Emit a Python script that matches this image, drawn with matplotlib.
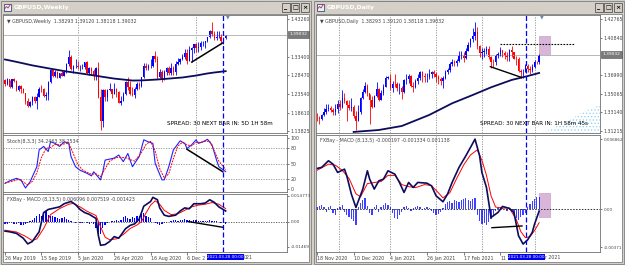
import matplotlib
matplotlib.use('Agg')
import matplotlib.pyplot as plt
import matplotlib.patches as patches
import numpy as np
from matplotlib.colors import LinearSegmentedColormap

W, H = 625, 265
plt.rcParams['font.family'] = ['DejaVu Sans']
plt.rcParams['hatch.linewidth'] = 0.5

# ---------------- weekly GBPUSD (26 May 2019 .. 4 Apr 2021) ----------------
w_open0 = 1.2715
w_close = [1.2623, 1.2740, 1.2546, 1.2737, 1.2693, 1.2465, 1.2573, 1.2478, 1.2375, 1.2163,
           1.2028, 1.2144, 1.2278, 1.2160, 1.2288, 1.2499, 1.2474, 1.2290, 1.2330, 1.2668,
           1.2981, 1.2826, 1.2944, 1.2775, 1.2900, 1.2840, 1.2930, 1.3150, 1.3330, 1.3015,
           1.3080, 1.3080,
           1.3060, 1.3070, 1.3075, 1.3200, 1.2897, 1.3043, 1.2965, 1.2820, 1.3047, 1.2280,
           1.1635, 1.2460, 1.2280, 1.2455, 1.2480, 1.2365, 1.2490, 1.2405, 1.2130, 1.2165,
           1.2345, 1.2665, 1.2550, 1.2345, 1.2335, 1.2475, 1.2615, 1.2563, 1.2790, 1.3090,
           1.3050, 1.3085, 1.3090, 1.3350, 1.3275, 1.2790, 1.2920, 1.2745, 1.2945, 1.3045,
           1.2915, 1.3045, 1.2945, 1.3150, 1.3190, 1.3285, 1.3315, 1.3440, 1.3230, 1.3515,
           1.3555, 1.3670,
           1.3565, 1.3590, 1.3690, 1.3705, 1.3735, 1.3845, 1.4010, 1.3925, 1.3830, 1.3860,
           1.3865, 1.3760, 1.38293, 1.39032]
w_high = [1.2750, 1.2763, 1.2730, 1.2750, 1.2784, 1.2720, 1.2580, 1.2580, 1.2521, 1.2380,
          1.2250, 1.2170, 1.2310, 1.2310, 1.2385, 1.2528, 1.2582, 1.2513, 1.2412, 1.2706,
          1.3012, 1.3010, 1.2977, 1.2950, 1.2912, 1.2985, 1.2980, 1.3180, 1.3515, 1.3370,
          1.3120, 1.3285,
          1.3213, 1.3118, 1.3150, 1.3208, 1.3210, 1.3070, 1.3070, 1.3000, 1.3060, 1.3200,
          1.2480, 1.2486, 1.2485, 1.2485, 1.2650, 1.2485, 1.2645, 1.2500, 1.2430, 1.2300,
          1.2400, 1.2690, 1.2813, 1.2690, 1.2535, 1.2533, 1.2670, 1.2665, 1.2800, 1.3170,
          1.3170, 1.3140, 1.3265, 1.3355, 1.3482, 1.3350, 1.3010, 1.2980, 1.2980, 1.3065,
          1.3080, 1.3175, 1.3100, 1.3210, 1.3312, 1.3310, 1.3400, 1.3540, 1.3540, 1.3625,
          1.3600, 1.3670,
          1.3705, 1.3710, 1.3745, 1.3760, 1.3750, 1.3865, 1.4035, 1.4241, 1.4015, 1.4000,
          1.4000, 1.3920, 1.3850, 1.39120]
w_low = [1.2560, 1.2604, 1.2505, 1.2506, 1.2658, 1.2440, 1.2439, 1.2382, 1.2370, 1.2080,
         1.2015, 1.2016, 1.2070, 1.2130, 1.1958, 1.2280, 1.2410, 1.2270, 1.2205, 1.2195,
         1.2640, 1.2805, 1.2800, 1.2767, 1.2770, 1.2823, 1.2820, 1.2900, 1.3100, 1.2980,
         1.2905, 1.3050,
         1.3010, 1.2955, 1.3000, 1.3000, 1.2880, 1.2850, 1.2850, 1.2725, 1.2730, 1.2250,
         1.1409, 1.1500, 1.2165, 1.2160, 1.2430, 1.2250, 1.2360, 1.2265, 1.2110, 1.2075,
         1.2160, 1.2330, 1.2460, 1.2330, 1.2310, 1.2250, 1.2450, 1.2480, 1.2540, 1.2780,
         1.2985, 1.2980, 1.3050, 1.3060, 1.3200, 1.2760, 1.2765, 1.2675, 1.2720, 1.2850,
         1.2860, 1.2865, 1.2855, 1.2855, 1.3105, 1.3150, 1.3240, 1.3280, 1.3135, 1.3230,
         1.3190, 1.3430,
         1.3450, 1.3450, 1.3520, 1.3620, 1.3565, 1.3715, 1.3825, 1.3890, 1.3775, 1.3780,
         1.3815, 1.3670, 1.3670, 1.38118]
w_ma_x = [0, 5, 12, 20, 27, 35, 42, 48, 56, 60, 67, 72, 78, 84, 89, 92, 97]
w_ma_y = [1.3262, 1.3200, 1.3107, 1.3020, 1.2948, 1.2880, 1.2815, 1.2760, 1.2709, 1.2712,
          1.2736, 1.2760, 1.2789, 1.2840, 1.2895, 1.2920, 1.2955]

w_stoch_x = [0, 2, 5, 7, 9, 11, 14, 15, 17, 19, 20, 22, 24, 26, 28, 29, 31, 33, 36, 38, 39,
             42, 43, 44, 48, 50, 52, 54, 56, 59, 61, 63, 65, 66, 69, 70, 72, 74, 77, 79, 80,
             82, 84, 85, 87, 89, 91, 93, 94, 97]
w_stoch_main = [11, 16, 21, 18, 2, 14, 44, 77, 84, 74, 93, 90, 84, 93, 91, 64, 44, 37, 31, 26, 34,
                18, 34, 57, 61, 67, 54, 70, 44, 64, 97, 93, 90, 51, 18, 18, 44, 77, 95, 90, 80,
                87, 97, 90, 93, 98, 87, 57, 44, 34.25]
w_sig_x = [0, 3, 6, 8, 10, 12, 14, 16, 18, 20, 22, 24, 26, 28, 30, 32, 34, 36, 38, 40, 42, 44,
           46, 49, 51, 53, 55, 57, 60, 62, 64, 66, 68, 70, 72, 74, 76, 78, 80, 82, 84, 86, 88,
           90, 92, 94, 97]
w_stoch_sig = [12, 15, 19, 14, 8, 15, 32, 62, 80, 82, 88, 87, 89, 90, 70, 48, 38, 33, 29, 30, 24,
               40, 55, 62, 62, 62, 58, 55, 72, 88, 94, 75, 40, 22, 30, 60, 85, 92, 87, 85, 92,
               92, 94, 94, 75, 55, 38.25]

w_macd_x = [0, 2, 5, 8, 10, 12, 15, 17, 19, 21, 24, 26, 29, 31, 33, 35, 37, 40, 41, 42, 44, 46,
            48, 50, 53, 55, 57, 59, 61, 64, 65, 67, 68, 70, 72, 75, 77, 79, 81, 83, 86, 88, 90,
            92, 94, 97]
w_macd_main = [-0.0055, -0.0059, -0.0068, -0.0096, -0.0129, -0.0115, -0.0059, 0.0052, 0.0070,
               0.0076, 0.0085, 0.0103, 0.0116, 0.0098, 0.0070, 0.0052, 0.0042, 0.0018, -0.0078,
               -0.0137, -0.0133, -0.0115, -0.0087, -0.0096, -0.0041, -0.0022, -0.0013, 0.0015,
               0.0089, 0.0116, 0.0140, 0.0126, 0.0079, 0.0037, 0.0030, 0.0037, 0.0061, 0.0079,
               0.0074, 0.0103, 0.0103, 0.0107, 0.0126, 0.0111, 0.0085, 0.0061]
w_sig_mx = [0, 5, 9, 12, 14, 17, 20, 24, 28, 30, 33, 36, 40, 42, 44, 46, 49, 52, 55, 58, 60, 62,
            64, 66, 68, 70, 73, 76, 79, 82, 85, 88, 91, 94, 97]
w_macd_sig = [-0.0050, -0.0060, -0.0085, -0.0110, -0.0100, -0.0040, 0.0040, 0.0075, 0.0100,
              0.0105, 0.0085, 0.0060, 0.0035, -0.0030, -0.0090, -0.0105, -0.0100, -0.0075,
              -0.0040, -0.0020, 0.0000, 0.0050, 0.0095, 0.0120, 0.0100, 0.0065, 0.0040, 0.0045,
              0.0065, 0.0085, 0.0095, 0.0100, 0.0110, 0.0100, 0.0075]
w_hist = [-0.0012, -0.0015, -0.0010, -0.0008, -0.0012, -0.0015, -0.0010, -0.0018, -0.0020, -0.0015,
          -0.0010, 0.0005, 0.0010, 0.0020, 0.0030, 0.0045, 0.0030, 0.0050, 0.0060, 0.0040,
          0.0035, 0.0030, 0.0025, 0.0020, 0.0015, 0.0020, 0.0025, 0.0015, 0.0010, 0.0005,
          -0.0005, -0.0008, -0.0005, -0.0010, -0.0008, -0.0005, -0.0010, -0.0012, -0.0008, -0.0015,
          -0.0040, -0.0096, -0.0070, -0.0040, -0.0020, -0.0010, -0.0005, 0.0003, 0.0005, 0.0008,
          0.0005, 0.0010, 0.0025, 0.0030, 0.0020, 0.0015, 0.0025, 0.0020, 0.0030, 0.0035,
          0.0045, 0.0050, 0.0035, 0.0025, 0.0020, -0.0005, -0.0010, -0.0015, -0.0020, -0.0015,
          -0.0010, -0.0008, -0.0005, 0.0005, 0.0008, 0.0010, 0.0005, 0.0010, 0.0008, 0.0012,
          0.0010, 0.0008, 0.0005, 0.0008, 0.0010, 0.0006, 0.0004, 0.0003, 0.0005, 0.0004,
          0.0008, 0.0005, 0.0003, 0.0004, -0.0003, -0.0006, -0.0010, -0.0014]
# visible parts of the time-scale labels (the last ones sit under the blue date box)
w_dates = ['26 May 2019', '15 Sep 2019', '5 Jan 2020', '26 Apr 2020', '16 Aug 2020', '6 Dec 2']
w_date_tail = '021'

# ---------------- daily GBPUSD (18 Nov 2020 .. 5 Apr 2021) ----------------
d_open0 = 1.3260
d_close = [1.3255, 1.3250, 1.3285, 1.3320, 1.3350, 1.3355, 1.3340, 1.3315, 1.3345, 1.3395,
           1.3370, 1.3460, 1.3435, 1.3385, 1.3355, 1.3370, 1.3280, 1.3225, 1.3320, 1.3460,
           1.3520, 1.3585, 1.3515, 1.3440, 1.3370, 1.3480, 1.3555, 1.3445, 1.3510, 1.3580,
           1.3670, 1.3672, 1.3570, 1.3610, 1.3605, 1.3560, 1.3565, 1.3525, 1.3645, 1.3660,
           1.3690, 1.3590, 1.3580, 1.3635, 1.3665, 1.3735, 1.3685, 1.3675, 1.3675, 1.3705,
           1.3735, 1.3705, 1.3675, 1.3655, 1.3640, 1.3665, 1.3730, 1.3750, 1.3810, 1.3830,
           1.3820, 1.3845, 1.3890, 1.3910, 1.3870, 1.3950, 1.4010, 1.4075, 1.4105, 1.4145,
           1.3995, 1.3925, 1.3940, 1.3950, 1.3965, 1.3880, 1.3835, 1.3830, 1.3890, 1.3915,
           1.3955, 1.3930, 1.3905, 1.3880, 1.3960, 1.3935, 1.3865, 1.3860, 1.3745, 1.3725,
           1.3735, 1.3795, 1.3760, 1.3750, 1.3785, 1.3830, 1.38293, 1.39032]
d_high = [1.3310, 1.3280, 1.3300, 1.3360, 1.3395, 1.3400, 1.3375, 1.3360, 1.3395, 1.3440,
          1.3440, 1.3540, 1.3510, 1.3440, 1.3440, 1.3465, 1.3390, 1.3330, 1.3390, 1.3470,
          1.3550, 1.3625, 1.3610, 1.3500, 1.3480, 1.3495, 1.3625, 1.3560, 1.3545, 1.3605,
          1.3690, 1.3685, 1.3705, 1.3640, 1.3710, 1.3630, 1.3620, 1.3585, 1.3660, 1.3710,
          1.3710, 1.3700, 1.3625, 1.3660, 1.3710, 1.3745, 1.3745, 1.3720, 1.3720, 1.3760,
          1.3745, 1.3755, 1.3725, 1.3700, 1.3680, 1.3690, 1.3750, 1.3770, 1.3830, 1.3865,
          1.3850, 1.3865, 1.3950, 1.3950, 1.3935, 1.3975, 1.4035, 1.4085, 1.4180, 1.4241,
          1.4190, 1.4010, 1.3980, 1.3980, 1.4000, 1.4000, 1.3890, 1.3860, 1.3915, 1.3935,
          1.3990, 1.3960, 1.3950, 1.3935, 1.3970, 1.4000, 1.3940, 1.3895, 1.3880, 1.3760,
          1.3760, 1.3815, 1.3810, 1.3790, 1.3810, 1.3850, 1.3845, 1.39120]
d_low = [1.3225, 1.3195, 1.3240, 1.3275, 1.3300, 1.3330, 1.3320, 1.3290, 1.3285, 1.3305,
         1.3340, 1.3360, 1.3410, 1.3225, 1.3340, 1.3330, 1.3260, 1.3135, 1.3225, 1.3300,
         1.3450, 1.3510, 1.3480, 1.3190, 1.3360, 1.3370, 1.3470, 1.3430, 1.3440, 1.3495,
         1.3575, 1.3660, 1.3545, 1.3525, 1.3580, 1.3535, 1.3500, 1.3450, 1.3510, 1.3610,
         1.3620, 1.3575, 1.3520, 1.3560, 1.3610, 1.3650, 1.3625, 1.3630, 1.3630, 1.3655,
         1.3670, 1.3680, 1.3630, 1.3610, 1.3600, 1.3565, 1.3660, 1.3710, 1.3735, 1.3790,
         1.3790, 1.3790, 1.3830, 1.3860, 1.3830, 1.3860, 1.3945, 1.3990, 1.4040, 1.4060,
         1.3970, 1.3880, 1.3860, 1.3880, 1.3920, 1.3860, 1.3775, 1.3780, 1.3800, 1.3870,
         1.3900, 1.3880, 1.3860, 1.3840, 1.3840, 1.3885, 1.3860, 1.3800, 1.3735, 1.3670,
         1.3670, 1.3730, 1.3730, 1.3710, 1.3725, 1.3770, 1.3815, 1.38118]
d_ma_x = [16, 27, 37, 49, 59, 68, 76, 85, 91, 97]
d_ma_y = [1.3112, 1.3132, 1.3173, 1.3287, 1.3407, 1.3493, 1.3572, 1.3648, 1.3682, 1.3720]
d_cloud_x = [98, 102, 106, 110, 114, 118, 123.6]
d_cloud_y = [1.3101, 1.3140, 1.3185, 1.3230, 1.3290, 1.3335, 1.3392]

d_macd_x = [0, 2, 5, 7, 9, 12, 13, 15, 17, 20, 22, 23, 25, 27, 29, 31, 34, 36, 38, 40, 42, 44,
            48, 50, 52, 55, 57, 59, 62, 65, 67, 69, 71, 72, 74, 76, 79, 81, 84, 86, 88, 90, 92,
            94, 95, 97]
d_macd_main = [0.00398, 0.00408, 0.00473, 0.00440, 0.00359, 0.00391, 0.00326, 0.00147, 0.00016,
               0.00196, 0.00375, 0.00293, 0.00196, 0.00277, 0.00293, 0.00375, 0.00342, 0.00261,
               0.00163, 0.00261, 0.00212, 0.00261, 0.00254, 0.00228, 0.00130, 0.00072, 0.00147,
               0.00261, 0.00408, 0.00522, 0.00603, 0.00685, 0.00522, 0.00359, 0.00212, -0.00082,
               -0.00033, 0.00026, 0.00007, -0.00033, -0.00261, -0.00342, -0.00300, -0.00228,
               -0.00147, -0.000197]
d_sig_x = [0, 5, 8, 11, 14, 17, 19, 22, 25, 28, 31, 34, 37, 40, 43, 47, 50, 53, 55, 58, 61, 64,
           67, 70, 72, 74, 76, 78, 81, 84, 87, 89, 91, 93, 95, 97]
d_macd_sig = [0.00380, 0.00440, 0.00430, 0.00380, 0.00300, 0.00150, 0.00120, 0.00250, 0.00260,
              0.00270, 0.00330, 0.00330, 0.00240, 0.00220, 0.00210, 0.00240, 0.00230, 0.00160,
              0.00110, 0.00160, 0.00300, 0.00430, 0.00530, 0.00580, 0.00480, 0.00330, 0.00130,
              0.00020, 0.00010, 0.00010, -0.00100, -0.00220, -0.00280, -0.00270, -0.00210,
              -0.001334]
d_hist = [0.0002, 0.0003, 0.0004, 0.0002, -0.0003, 0.0002, 0.0003, -0.0004, -0.0006, 0.0001,
          0.0002, 0.0004, -0.0003, -0.0006, -0.0008, -0.0010, -0.0012, -0.0016, 0.0002, 0.0006,
          0.0009, 0.0011, 0.0003, -0.0004, -0.0006, 0.0002, 0.0004, -0.0003, 0.0002, 0.0004,
          0.0006, 0.0004, 0.0002, -0.0004, -0.0009, -0.0010, -0.0006, -0.0003, 0.0002, 0.0003,
          0.0001, -0.0002, 0.0001, 0.0002, 0.0003, 0.0002, -0.0001, 0.0001, 0.0002, 0.0001,
          -0.0002, -0.0004, -0.0006, -0.0005, -0.0003, 0.0001, 0.0005, 0.0007, 0.0008, 0.0006,
          0.0009, 0.0008, 0.0007, 0.0009, 0.0010, 0.0011, 0.0009, 0.0008, 0.0010, 0.0011,
          -0.0006, -0.0012, -0.0015, -0.0014, -0.0016, -0.0013, -0.0010, -0.0006, -0.0002, 0.0001,
          0.0002, 0.0001, 0.0000, -0.0002, 0.0001, -0.0003, -0.0006, -0.0009, -0.0011, -0.0008,
          -0.0006, -0.0004, 0.0002, 0.0005, 0.0008, 0.0010, 0.0012, 0.001138]
d_dates = ['18 Nov 2020', '10 Dec 2020', '4 Jan 2021', '26 Jan 2021', '17 Feb 2021', '11']
d_date_tail = 'r 2021'
date_ticks = [0, 16, 32, 48, 64, 80]

BLUE, RED, NAVY = '#0000ff', '#ff0000', '#0c0c5c'
TXT = '#454545'
FS = 3.4


def px_axes(fig, x0, y0, x1, y1, **kw):
    return fig.add_axes([x0 / W, 1 - y1 / H, (x1 - x0) / W, (y1 - y0) / H], **kw)


def style_panel(ax, xlim, ylim, ticks, labels, fs=FS):
    ax.set_xlim(*xlim)
    ax.set_ylim(*ylim)
    for s in ax.spines.values():
        s.set_color('#707070')
        s.set_linewidth(0.6)
    ax.yaxis.tick_right()
    ax.set_yticks(ticks)
    ax.set_yticklabels(labels)
    ax.tick_params(axis='y', length=1.5, width=0.5, pad=1.0, labelsize=fs, colors=TXT)
    ax.set_xticks([])


def candles(ax, o0, highs, lows, closes):
    c = np.array(closes)
    o = np.array([o0] + closes[:-1])
    x = np.arange(len(c))
    cols = np.where(c >= o, BLUE, RED)
    ax.vlines(x, lows, highs, colors=cols, lw=0.6)
    ax.bar(x, np.maximum(np.abs(c - o), 0.0004), bottom=np.minimum(o, c), width=0.6,
           color=cols, linewidth=0)


def date_axis(ax, labels):
    ax.set_xticks(date_ticks)
    ax.set_xticklabels(labels, ha='left')
    ax.tick_params(axis='x', length=2, width=0.5, pad=1.2, labelsize=FS, colors=TXT)


def vgrid(ax, xs):
    for v in xs:
        ax.axvline(v, color='#909090', lw=0.6, ls=(0, (1.5, 1.5)), zorder=0)


fig = plt.figure(figsize=(W / 100, H / 100), dpi=100, facecolor='#d4d0c8')

# window frames, title bars, buttons
bg = fig.add_axes([0, 0, 1, 1], zorder=-5)
bg.set_xlim(0, W)
bg.set_ylim(H, 0)
bg.axis('off')
inactive = LinearSegmentedColormap.from_list('ina', ['#7f9bc9', '#c9d9ee'])
active = LinearSegmentedColormap.from_list('act', ['#0a3a9e', '#a6caf0'])
grad = np.linspace(0, 1, 256).reshape(1, -1)
for x0, x1, cmap, title in [(1, 311, inactive, 'GBPUSD,Weekly'), (314, 624, active, 'GBPUSD,Daily')]:
    bg.add_patch(patches.Rectangle((x0, 0.5), x1 - x0, 263.5, facecolor='#d4d0c8',
                                   edgecolor='#808080', lw=0.6))
    bg.imshow(grad, cmap=cmap, extent=(x0 + 1, x1 - 1, 13.5, 1.5), aspect='auto')
    bg.add_patch(patches.Rectangle((x0 + 2, 14), x1 - x0 - 4, 248, facecolor='white',
                                   edgecolor='#808080', lw=0.6))
    bg.add_patch(patches.Rectangle((x0 + 2.5, 3.5), 7, 7, facecolor='#e8f0ff', edgecolor='#203060', lw=0.5))
    bg.plot([x0 + 3.5, x0 + 5.5, x0 + 7, x0 + 9], [9, 6.5, 8, 5], color='#c03030', lw=0.6)
    bg.text(x0 + 12.5, 7.7, title, fontsize=4.4, fontweight='bold', color='white', va='center')
    for k, glyph in enumerate(['_', '□', '×']):
        bx = x1 - 29 + k * 9 + (1 if k == 2 else 0)
        bg.add_patch(patches.Rectangle((bx, 3), 8, 8.5, facecolor='#d4d0c8', edgecolor='#404040', lw=0.5))
        bg.text(bx + 4, 7.4, glyph, fontsize=4.5, ha='center', va='center', color='black',
                fontweight='bold')

# ---------------- left window: weekly ----------------
wx = (-0.88, 123.96)
w_x = np.arange(len(w_close))
axw = px_axes(fig, 3, 15, 287, 133)
style_panel(axw, wx, (1.13299, 1.44311),
            [1.43260, 1.33400, 1.28470, 1.23540, 1.18610, 1.13825],
            ['1.43260', '1.33400', '1.28470', '1.23540', '1.18610', '1.13825'])
vgrid(axw, [32, 84])
axw.axhline(w_close[-1], color='#b8b8b8', lw=0.7)
candles(axw, w_open0, w_high, w_low, w_close)
axw.plot(w_ma_x, w_ma_y, color=NAVY, lw=1.3)
axw.plot([82.1, 95.7], [1.3194, 1.3698], color='black', lw=1.1)
axw.axvline(96, color=BLUE, lw=0.9, ls=(0, (4, 2)))
axw.text(0.014, 0.965, '\u25BC GBPUSD,Weekly  1.38293 1.39120 1.38118 1.39032', transform=axw.transAxes,
         fontsize=FS, color=TXT, va='top')
axw.text(0.577, 0.08, 'SPREAD: 30 NEXT BAR IN: 5D 1H 58m', transform=axw.transAxes,
         fontsize=4.1, color='black', va='center')

axs = px_axes(fig, 3, 135, 287, 192)
style_panel(axs, wx, (-5.9, 106.5), [100, 80, 50, 20, 0], ['100', '80', '50', '20', '0'])
vgrid(axs, [32, 84])
for lvl in (80, 50, 20):
    axs.axhline(lvl, color='#909090', lw=0.6, ls=(0, (1.5, 1.5)))
axs.plot(w_stoch_x, w_stoch_main, color='#2020ff', lw=0.8)
axs.plot(w_sig_x, w_stoch_sig, color=RED, lw=0.7, ls=(0, (2, 1)))
axs.plot([80, 95.7], [78.3, 34.2], color='black', lw=1.1)
axs.axvline(96, color=BLUE, lw=0.9, ls=(0, (4, 2)))
axs.text(0.014, 0.93, 'Stoch(8,3,3) 34.2463 38.2534', transform=axs.transAxes,
         fontsize=FS, color=TXT, va='top')

axm = px_axes(fig, 3, 194, 287, 252)
style_panel(axm, wx, (-0.017579, 0.015928), [0.014773, 0.0, -0.01469],
            ['0.014773', '0.00', '-0.01469'], fs=3.1)
vgrid(axm, [32, 84])
axm.axhline(0, color='#505050', lw=0.6, ls=(0, (1.5, 1.5)))
axm.bar(w_x, w_hist, width=0.55, color=BLUE, linewidth=0)
axm.plot(w_sig_mx, w_macd_sig, color=RED, lw=0.7)
axm.plot(w_macd_x, w_macd_main, color=NAVY, lw=1.2)
axm.plot([80.6, 95.7], [0.0, -0.0033], color='black', lw=1.0)
axm.axvline(96, color=BLUE, lw=0.9, ls=(0, (4, 2)))
axm.text(0.014, 0.95, 'FXBay - MACD (8,13,5) 0.006096 0.007519 -0.001423', transform=axm.transAxes,
         fontsize=FS, color=TXT, va='top')
date_axis(axm, w_dates)

# ---------------- right window: daily ----------------
dx = (-0.44, 123.58)
d_x = np.arange(len(d_close))
axd = px_axes(fig, 316, 15, 600, 133)
style_panel(axd, dx, (1.31009, 1.43178),
            [1.42765, 1.40840, 1.36990, 1.35065, 1.33140, 1.31215],
            ['1.42765', '1.40840', '1.36990', '1.35065', '1.33140', '1.31215'])
vgrid(axd, [9.5, 32, 52, 72, 95.2])
axd.fill_between(d_cloud_x, 1.30, d_cloud_y, facecolor='none', edgecolor='#8ccff5',
                 hatch='.....', lw=0)
axd.axhline(d_close[-1], color='#b8b8b8', lw=0.7)
axd.add_patch(patches.Rectangle((96.9, 1.3905), 4.8, 0.0196, facecolor='#d9b6d9',
                                edgecolor='#c9a0c9', lw=0.5, zorder=1))
candles(axd, d_open0, d_high, d_low, d_close)
axd.plot(d_ma_x, d_ma_y, color=NAVY, lw=1.3)
axd.plot([75.7, 89.2], [1.3785, 1.3675], color='black', lw=1.0)
axd.plot([79.9, 112.2], [1.4019, 1.4019], color='black', lw=0.8, ls=(0, (1.5, 1.2)))
axd.axvline(91.4, color=BLUE, lw=0.9, ls=(0, (4, 2)))
axd.text(0.014, 0.965, '\u25BC GBPUSD,Daily  1.38293 1.39120 1.38118 1.39032', transform=axd.transAxes,
         fontsize=FS, color=TXT, va='top')
axd.text(0.577, 0.08, 'SPREAD: 30 NEXT BAR IN: 1H 58m 45s', transform=axd.transAxes,
         fontsize=4.1, color='black', va='center')

axdm = px_axes(fig, 316, 135, 600, 252)
style_panel(axdm, dx, (-0.004199, 0.007254), [0.006862, 0.0, -0.00371],
            ['0.006862', '0.00', '-0.00371'], fs=3.0)
vgrid(axdm, [9.5, 32, 52, 72, 95.2])
axdm.add_patch(patches.Rectangle((96.9, -0.00077), 4.8, 0.00235, facecolor='#d9b6d9',
                                 edgecolor='#c9a0c9', lw=0.5, zorder=1))
axdm.axhline(0, color='#303030', lw=0.7, ls=(0, (1.5, 1.5)))
axdm.bar(d_x, d_hist, width=0.55, color=BLUE, linewidth=0, alpha=0.75)
axdm.plot(d_sig_x, d_macd_sig, color=RED, lw=0.7)
axdm.plot(d_macd_x, d_macd_main, color=NAVY, lw=1.2)
axdm.plot([76.4, 89.5], [-0.00182, -0.00165], color='black', lw=1.0)
axdm.axvline(91.4, color=BLUE, lw=0.9, ls=(0, (4, 2)))
axdm.text(0.014, 0.975, 'FXBay - MACD (8,13,5) -0.000197 -0.001334 0.001138', transform=axdm.transAxes,
          fontsize=FS, color=TXT, va='top')
date_axis(axdm, d_dates)

# ---------------- overlays: price boxes, shift markers, date boxes ----------------
fg = fig.add_axes([0, 0, 1, 1], zorder=10)
fg.set_xlim(0, W)
fg.set_ylim(H, 0)
fg.axis('off')
for bx, by in [(288, 30.5), (601, 50.5)]:
    fg.add_patch(patches.Rectangle((bx, by), 21, 7, facecolor='#7a7a7a', edgecolor='#505050', lw=0.4))
    fg.text(bx + 10.5, by + 3.6, '1.39032', fontsize=3.2, color='white', ha='center', va='center')
for tx in (228, 542):
    fg.text(tx, 17, '\u25BC', fontsize=3.5, color='#6a86a8', ha='center', va='center')
for cx, tail in [(225, w_date_tail), (526, d_date_tail)]:
    fg.add_patch(patches.Rectangle((cx - 18.5, 253.8), 37, 6.6, facecolor='#0000f0', lw=0))
    fg.text(cx, 257.2, '2021.03.28 00:00', fontsize=2.95, color='white', ha='center', va='center')
    fg.text(cx + 19.2, 257.6, tail, fontsize=FS, color=TXT, ha='left', va='center')

fig.savefig('out.png', dpi=100, facecolor=fig.get_facecolor())
